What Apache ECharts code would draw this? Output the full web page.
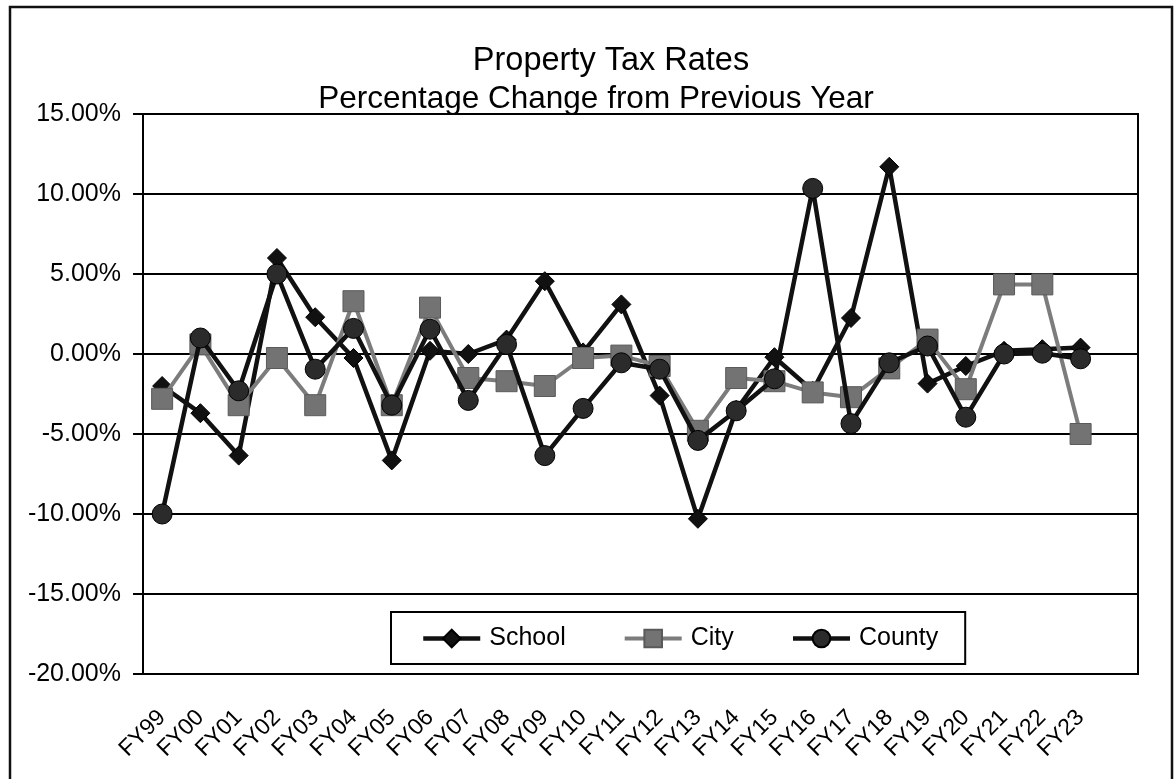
<!DOCTYPE html>
<html>
<head>
<meta charset="utf-8">
<title>Property Tax Rates</title>
<script src="https://cdn.jsdelivr.net/npm/echarts@6/dist/echarts.min.js"></script>
<style>
  html, body { margin: 0; padding: 0; background: #ffffff; }
  #chart { width: 1175px; height: 779px; }
</style>
</head>
<body>
<div id="chart"></div>
<script>
// Fiscal years on the category axis
const categories = ['FY99', 'FY00', 'FY01', 'FY02', 'FY03', 'FY04', 'FY05', 'FY06', 'FY07',
  'FY08', 'FY09', 'FY10', 'FY11', 'FY12', 'FY13', 'FY14', 'FY15', 'FY16', 'FY17', 'FY18',
  'FY19', 'FY20', 'FY21', 'FY22', 'FY23'];

// Percentage change from the previous year (in %)
const school = [-2.0, -3.7, -6.35, 6.0, 2.3, -0.25, -6.65, 0.2, 0.0, 0.9, 4.55, 0.1, 3.1,
  -2.6, -10.3, -3.5, -0.2, -2.3, 2.25, 11.7, -1.85, -0.75, 0.2, 0.3, 0.4];
const city = [-2.8, 0.6, -3.2, -0.25, -3.2, 3.3, -3.2, 2.9, -1.5, -1.7, -2.0, -0.25, -0.1,
  -0.75, -4.8, -1.5, -1.7, -2.4, -2.7, -0.9, 0.9, -2.2, 4.35, 4.35, -5.0];
const county = [-10.0, 1.0, -2.3, 5.0, -0.95, 1.6, -3.2, 1.55, -2.9, 0.6, -6.35, -3.4, -0.55,
  -0.95, -5.4, -3.55, -1.55, 10.35, -4.35, -0.55, 0.5, -3.95, 0.0, 0.05, -0.3];

// Value-axis ticks (in %)
const yTicks = [-20, -15, -10, -5, 0, 5, 10, 15];

// The category axis keeps one empty slot after the last year
const axisSlots = categories.concat(['']);

const FONT = '"Liberation Sans", Arial, sans-serif';
const chart = echarts.init(document.getElementById('chart'), null, { renderer: 'canvas' });

const schoolLine = { color: '#111', width: 4.5 };
const cityLine = { color: '#7c7c7c', width: 4 };
const countyLine = { color: '#111', width: 4.5 };

chart.setOption({
  backgroundColor: '#ffffff',
  animation: false,
  graphic: [
    {
      type: 'rect',
      z: -10,
      shape: { x: 10, y: 7, width: 1162, height: 820 },
      style: { fill: 'none', stroke: '#111', lineWidth: 2.5 }
    },
    {
      type: 'text',
      x: 611, y: 61,
      style: {
        text: 'Property Tax Rates', fontFamily: FONT, fontSize: 32.5,
        fill: '#000', align: 'center', verticalAlign: 'middle'
      }
    },
    {
      type: 'text',
      x: 596, y: 99,
      style: {
        text: 'Percentage Change from Previous Year', fontFamily: FONT, fontSize: 31.5,
        fill: '#000', align: 'center', verticalAlign: 'middle'
      }
    }
  ],
  legend: {
    left: 391,
    top: 612,
    orient: 'horizontal',
    data: [
      { name: 'School', lineStyle: schoolLine },
      { name: 'City', lineStyle: cityLine },
      { name: 'County', lineStyle: countyLine }
    ],
    borderColor: '#000',
    borderWidth: 2,
    padding: [14, 27, 13, 30],
    itemWidth: 57,
    itemHeight: 22,
    itemGap: 57,
    textStyle: { fontFamily: FONT, fontSize: 25, color: '#000', padding: [0, 0, 0, 4] }
  },
  grid: {
    left: 143,
    right: 37,
    top: 114,
    bottom: 105,
    show: true,
    borderColor: '#000',
    borderWidth: 2,
    backgroundColor: '#fff'
  },
  xAxis: {
    type: 'category',
    data: axisSlots,
    boundaryGap: true,
    axisLine: { show: true, lineStyle: { color: '#000', width: 2 } },
    axisTick: { show: false },
    splitLine: { show: false },
    axisLabel: {
      rotate: 45,
      interval: 0,
      margin: 40,
      fontFamily: FONT,
      fontSize: 23,
      color: '#000'
    }
  },
  yAxis: {
    type: 'value',
    min: yTicks[0],
    max: yTicks[yTicks.length - 1],
    interval: 5,
    axisLine: { show: true, lineStyle: { color: '#000', width: 2 } },
    axisTick: { show: true, inside: false, length: 10, lineStyle: { color: '#000', width: 2 } },
    splitLine: { show: true, lineStyle: { color: '#000', width: 2 } },
    axisLabel: {
      margin: 22,
      fontFamily: FONT,
      fontSize: 25,
      color: '#000',
      formatter: function (v) { return v.toFixed(2) + '%'; }
    }
  },
  series: [
    {
      name: 'School',
      type: 'line',
      data: school,
      symbol: 'diamond',
      symbolSize: 19,
      lineStyle: schoolLine,
      itemStyle: { color: '#111', borderColor: '#000', borderWidth: 1 },
      z: 3
    },
    {
      name: 'City',
      type: 'line',
      data: city,
      symbol: 'rect',
      symbolSize: 21,
      lineStyle: cityLine,
      itemStyle: { color: '#737373', borderColor: '#5a5a5a', borderWidth: 1 },
      z: 4
    },
    {
      name: 'County',
      type: 'line',
      data: county,
      symbol: 'circle',
      symbolSize: 20,
      lineStyle: countyLine,
      itemStyle: { color: '#2b2b2b', borderColor: '#000', borderWidth: 1 },
      z: 5
    }
  ]
});
</script>
</body>
</html>
